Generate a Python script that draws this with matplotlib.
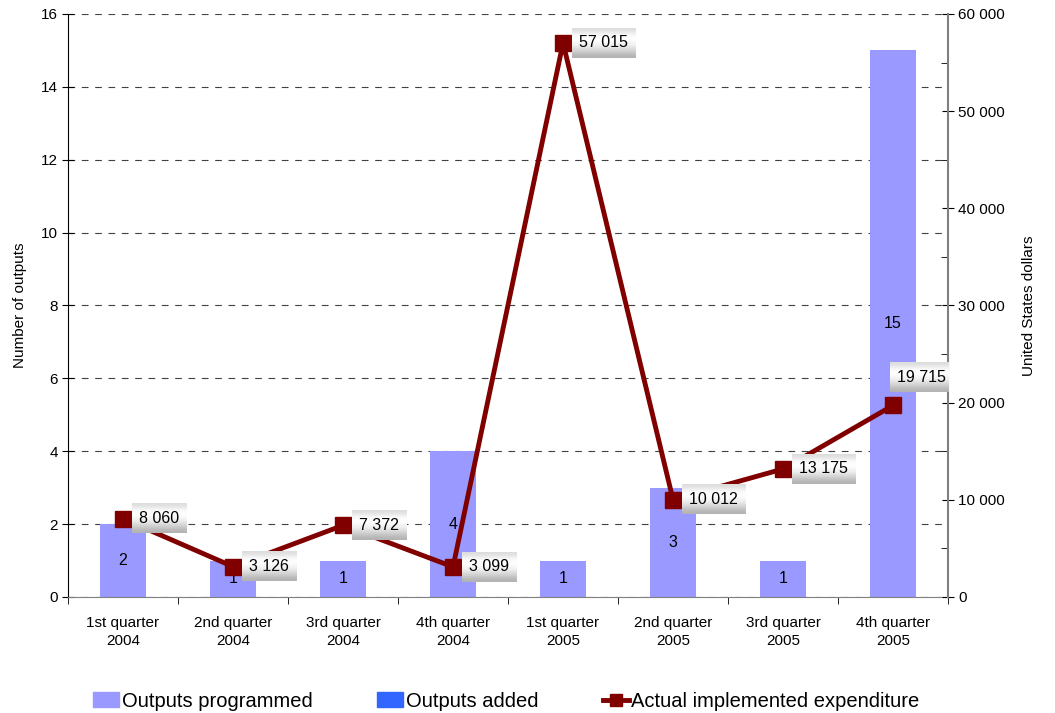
import matplotlib
matplotlib.use("Agg")
import matplotlib.pyplot as plt
import numpy as np
from matplotlib.patches import Patch
from matplotlib.lines import Line2D
from matplotlib.ticker import FixedLocator, FuncFormatter, MultipleLocator

plt.rcParams['font.family'] = ['Liberation Sans', 'DejaVu Sans']

quarters = ["1st quarter\n2004", "2nd quarter\n2004", "3rd quarter\n2004", "4th quarter\n2004",
            "1st quarter\n2005", "2nd quarter\n2005", "3rd quarter\n2005", "4th quarter\n2005"]
outputs_programmed = [2, 1, 1, 4, 1, 3, 1, 15]
outputs_added = [0, 0, 0, 0, 0, 0, 0, 0]
expenditure = [8060, 3126, 7372, 3099, 57015, 10012, 13175, 19715]

bar_color = "#9999ff"
added_color = "#3366ff"
line_color = "#800000"


def spaced(v, pos=None):
    return f"{int(v):,}".replace(",", " ")


fig = plt.figure(figsize=(10.55, 7.13), dpi=100)
ax = fig.add_axes([0.0645, 0.1627, 0.8341, 0.8177])
x = np.arange(len(quarters))

ax.bar(x, outputs_programmed, width=0.42, color=bar_color, zorder=2)
ax.bar(x, outputs_added, width=0.42, bottom=outputs_programmed, color=added_color, linewidth=0, zorder=2)
for xi, v in zip(x, outputs_programmed):
    ax.text(xi, v / 2, str(v), ha="center", va="center", fontsize=11.5, zorder=3)

ax.set_xlim(-0.5, len(quarters) - 0.5)
ax.set_ylim(0, 16)
ax.yaxis.set_major_locator(MultipleLocator(2))
ax.set_axisbelow(True)
ax.yaxis.grid(True, linestyle=(0, (6, 6)), color="#404040", linewidth=0.8)
ax.set_xticks(x)
ax.set_xticklabels(quarters, fontsize=11, linespacing=1.35)
ax.xaxis.set_minor_locator(FixedLocator(np.arange(-0.5, len(quarters), 1)))
ax.tick_params(axis="x", which="major", length=0, pad=14)
ax.tick_params(axis="x", which="minor", length=5, direction="out", color="black")
ax.tick_params(axis="y", which="major", length=8, direction="inout", labelsize=11)
ax.set_ylabel("Number of outputs", fontsize=11, labelpad=10)
ax.spines["top"].set_visible(False)
ax.spines["right"].set_visible(False)
ax.spines["bottom"].set_color("#808080")

ax2 = ax.twinx()
ax2.plot(x, expenditure, color=line_color, linewidth=3.5, marker="s", markersize=11, zorder=3)
ax2.set_ylim(0, 60000)
ax2.yaxis.set_major_locator(MultipleLocator(10000))
ax2.yaxis.set_minor_locator(MultipleLocator(5000))
ax2.yaxis.set_major_formatter(FuncFormatter(spaced))
ax2.tick_params(axis="y", which="major", length=8, direction="inout", labelsize=11)
ax2.tick_params(axis="y", which="minor", length=5, direction="in")
ax2.set_ylabel("United States dollars", fontsize=11, labelpad=12)
for s in ["top", "left", "bottom"]:
    ax2.spines[s].set_visible(False)
ax2.spines["right"].set_color("#808080")
ax2.spines["right"].set_linewidth(1.5)

# value labels beside markers
offsets = [(16, 0)] * (len(expenditure) - 1) + [(4, 28)]
labels = []
for xi, v, off in zip(x, expenditure, offsets):
    t = ax2.annotate(spaced(v), (xi, v), xytext=off, textcoords="offset pixels",
                     ha="left", va="center", fontsize=11.5, zorder=6,
                     bbox=dict(boxstyle="square,pad=0.45", fc="none", ec="none"))
    labels.append(t)

fig.legend(handles=[Patch(color=bar_color, label="Outputs programmed"),
                    Patch(color=added_color, label="Outputs added"),
                    Line2D([], [], color=line_color, linewidth=3.5, marker="s", markersize=9,
                           label="Actual implemented expenditure")],
           loc="lower center", bbox_to_anchor=(0.48, -0.022), ncol=3, frameon=False,
           fontsize=14.5, handlelength=1.3, handletextpad=0.12, columnspacing=3.2)

# gradient fill behind the expenditure labels
fig.canvas.draw()
renderer = fig.canvas.get_renderer()
grad = np.array([0.86, 0.97, 1.0, 0.97, 0.9, 0.8, 0.7])[:, None]
grad = np.repeat(grad, 2, axis=1)
for t in labels:
    bb = t.get_bbox_patch().get_window_extent(renderer)
    bb = bb.transformed(ax2.transAxes.inverted())
    ax2.imshow(grad, cmap="gray", vmin=0, vmax=1, extent=[bb.x0, bb.x1, bb.y0, bb.y1],
               transform=ax2.transAxes, aspect="auto", interpolation="bicubic", zorder=5)
ax2.set_ylim(0, 60000)
ax2.set_xlim(-0.5, len(quarters) - 0.5)

fig.savefig("out.png", dpi=100)
